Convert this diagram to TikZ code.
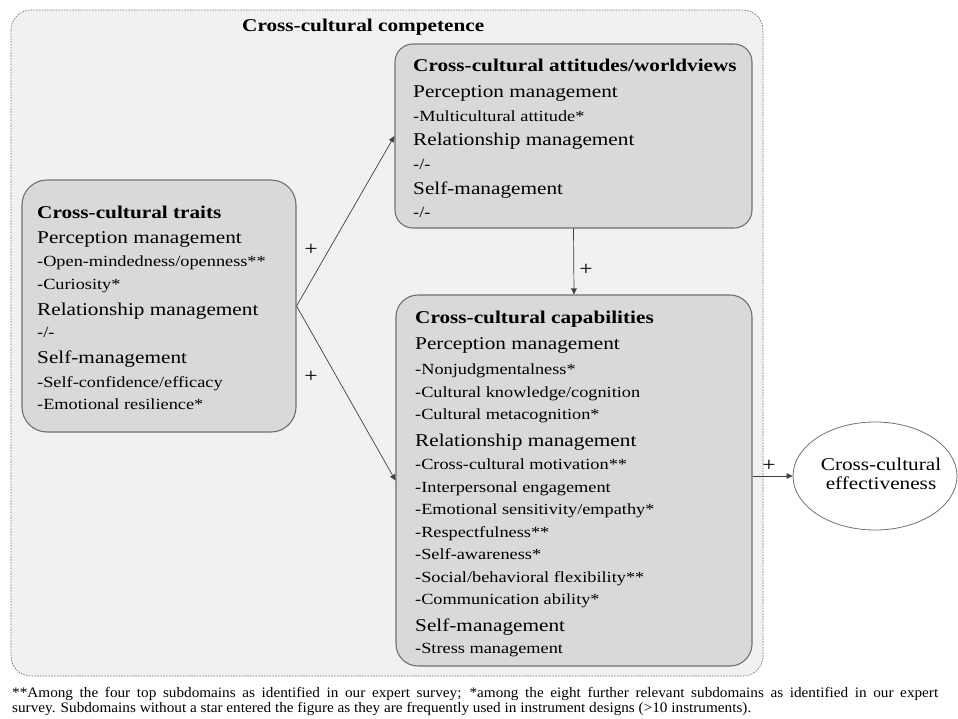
\documentclass[tikz,border=0pt]{standalone}
\usepackage{fontspec}
\setmainfont{Liberation Serif}[FakeStretch=1.18]
\newfontfamily\notefont{Liberation Serif}[FakeStretch=1.05]
\usetikzlibrary{arrows.meta,shapes.geometric}

\definecolor{panelbg}{RGB}{241,241,241}
\definecolor{panelline}{RGB}{120,120,120}
\definecolor{boxfill}{RGB}{217,217,217}
\definecolor{boxline}{RGB}{112,112,112}

\tikzset{
  panel/.style={draw=panelline, fill=panelbg, dashed, dash pattern=on 1.6pt off 1.2pt,
    line width=0.7pt, rounded corners=20pt},
  box/.style={draw=boxline, fill=boxfill, line width=1.1pt, rectangle, inner sep=0pt},
  head/.style={anchor=base west, inner sep=0pt, font=\fontsize{18}{18}\selectfont},
  title/.style={anchor=base west, inner sep=0pt, font=\fontsize{18}{18}\selectfont\bfseries},
  item/.style={anchor=base west, inner sep=0pt, font=\fontsize{15.5}{15.5}\selectfont},
  sign/.style={inner sep=0pt, font=\fontsize{20}{20}\selectfont},
  link/.style={draw=black!75, line width=0.7pt, -{Triangle[length=6pt,width=5.5pt]}},
  note/.style={anchor=base west, inner sep=0pt, font=\notefont\fontsize{14.5}{14.5}\selectfont},
}

\begin{document}
\begin{tikzpicture}[x=1pt,y=-1pt]
\useasboundingbox (0,0) rectangle (958,718);

% outer competence panel
\draw[panel] (11,10) rectangle (763,676);
\node[title] (ccc) at (242,31) {Cross-cultural competence};

% boxes
\node[box, rounded corners=25pt, minimum width=274pt, minimum height=252pt] (traits) at (159,306) {};
\node[box, rounded corners=18pt, minimum width=357pt, minimum height=184pt] (attitudes) at (573.5,136) {};
\node[box, rounded corners=22pt, minimum width=356pt, minimum height=371pt] (caps) at (574,480.5) {};
\node[draw=boxline, line width=0.8pt, ellipse, minimum width=164pt, minimum height=108pt,
      inner sep=0pt] (eff) at (875,476) {};
\node[align=center, inner sep=0pt, font=\fontsize{18}{18.5}\selectfont] (effl) at (881,474)
      {Cross-cultural\\effectiveness};

% traits
\node[title] (t0) at (37,218) {Cross-cultural traits};
\node[head]  (t1) at (37,243) {Perception management};
\node[item]  (t2) at (37,266) {-Open-mindedness/openness**};
\node[item]  (t3) at (37,289) {-Curiosity*};
\node[head]  (t4) at (37,315) {Relationship management};
\node[item]  (t5) at (37,337) {-/-};
\node[head]  (t6) at (37,363) {Self-management};
\node[item]  (t7) at (37,387) {-Self-confidence/efficacy};
\node[item]  (t8) at (37,409) {-Emotional resilience*};

% attitudes / worldviews
\node[title] (a0) at (413,71) {Cross-cultural attitudes/worldviews};
\node[head]  (a1) at (413,97) {Perception management};
\node[item]  (a2) at (413,121) {-Multicultural attitude*};
\node[head]  (a3) at (413,145) {Relationship management};
\node[item]  (a4) at (413,169) {-/-};
\node[head]  (a5) at (413,194) {Self-management};
\node[item]  (a6) at (413,217) {-/-};

% capabilities
\node[title] (c0)  at (415,323) {Cross-cultural capabilities};
\node[head]  (c1)  at (415,349) {Perception management};
\node[item]  (c2)  at (415,374) {-Nonjudgmentalness*};
\node[item]  (c3)  at (415,397) {-Cultural knowledge/cognition};
\node[item]  (c4)  at (415,419) {-Cultural metacognition*};
\node[head]  (c5)  at (415,446) {Relationship management};
\node[item]  (c6)  at (415,469) {-Cross-cultural motivation**};
\node[item]  (c7)  at (415,492) {-Interpersonal engagement};
\node[item]  (c8)  at (415,514) {-Emotional sensitivity/empathy*};
\node[item]  (c9)  at (415,537) {-Respectfulness**};
\node[item]  (c10) at (415,559) {-Self-awareness*};
\node[item]  (c11) at (415,582) {-Social/behavioral flexibility**};
\node[item]  (c12) at (415,604) {-Communication ability*};
\node[head]  (c13) at (415,631) {Self-management};
\node[item]  (c14) at (415,653) {-Stress management};

% connectors
\draw[link] (traits.east) -- (attitudes.west);
\draw[link] (traits.east) -- (caps.west);
\draw[link] (attitudes.south) -- (caps.north);
\draw[link] (caps.east |- eff.west) -- (eff.west);

\node[sign] (p1) at (311,250) {+};
\node[sign] (p2) at (311,377) {+};
\node[sign] (p3) at (586,270) {+};
\node[sign] (p4) at (769,466) {+};

% footnote
\node[note] (n1) at (12,697) {\makebox[926pt][s]{**Among the four top subdomains as identified in our expert survey; *among the eight further relevant subdomains as identified in our expert}};
\node[note] (n2) at (12,712) {survey. Subdomains without a star entered the figure as they are frequently used in instrument designs (>10 instruments).};
\end{tikzpicture}
\end{document}
